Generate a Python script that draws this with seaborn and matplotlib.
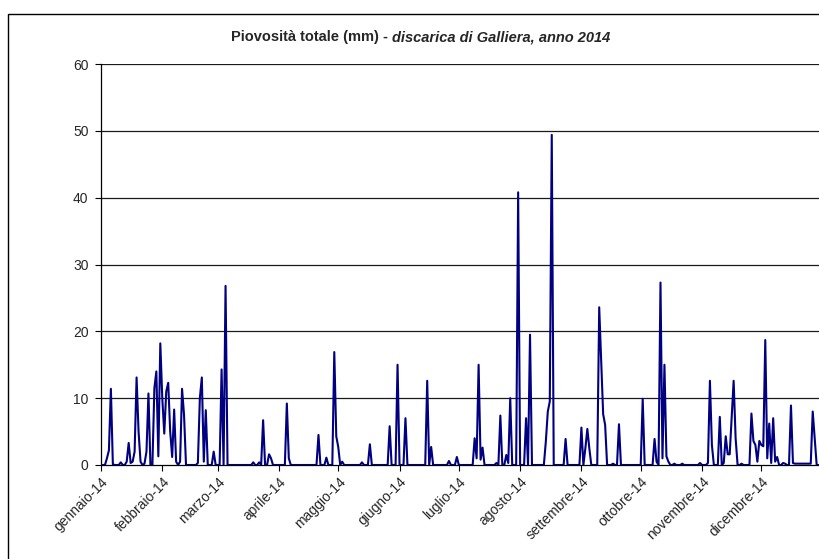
import matplotlib
matplotlib.use("Agg")
import matplotlib.pyplot as plt
from matplotlib.patches import Rectangle
import numpy as np
import pandas as pd
import seaborn as sns

# Daily rainfall (mm), one list per month of 2014
gennaio = [0, 0, 0, 1.0, 2.2, 11.4, 0.1, 0, 0, 0, 0.4, 0, 0, 0.5, 3.3, 0.3, 0.5, 2.0,
           13.1, 5.0, 0.5, 0, 0.2, 2.0, 10.7, 0, 0, 11.5, 14.0, 1.3, 18.2]
febbraio = [10.0, 4.7, 11.0, 12.3, 5.0, 1.2, 8.3, 0.5, 0, 0.5, 11.4, 7.5, 0, 0, 0, 0, 0, 0,
            0.3, 10.0, 13.1, 0.5, 8.2, 0, 0, 0, 2.0, 0]
marzo = [0, 0, 14.3, 0, 26.8] + [0] * 13 + [0.4, 0, 0, 0.4, 0, 6.7, 0, 0, 1.6, 1.0, 0, 0, 0]
aprile = [0, 0, 0, 0, 9.2, 1.0] + [0] * 14 + [4.5, 0, 0, 0, 1.1, 0, 0, 0, 16.9, 4.3]
maggio = [2.7, 0, 0.5] + [0] * 9 + [0.4, 0, 0, 0, 3.1] + [0] * 9 + [5.8, 0, 0, 0, 15.0]
giugno = [0, 0, 0, 7.0] + [0] * 10 + [12.6, 0, 2.7] + [0] * 8 + [0.6, 0, 0, 0, 1.2]
luglio = [0] * 8 + [4.0, 1.0, 15.0, 0.8, 2.6] + [0] * 6 + [0.3, 0, 7.4, 0, 0, 1.5, 0.3,
                                                         10.0, 0, 0, 0, 40.8]
agosto = [0, 0, 0, 7.0, 0, 19.5] + [0] * 7 + [3.5, 8.0, 9.5, 49.4] + [0] * 6 + [3.9] + [0] * 7
settembre = [5.6, 0, 2.5, 5.4, 2.5, 0, 0, 0, 0, 23.6, 15.5, 7.6, 6.0, 0, 0, 0, 0.2, 0, 0,
             6.1] + [0] * 10
ottobre = [0, 9.9, 0, 0, 0, 0, 0, 3.9, 0.5, 0, 27.3, 1.0, 15.0, 1.3, 0.5, 0, 0, 0.2, 0, 0,
           0, 0.2] + [0] * 8 + [0.3]
novembre = [0, 0, 0, 0.3, 12.6, 3.0, 0, 0, 0, 7.2, 0, 0.3, 4.3, 1.6, 1.6, 7.0, 12.6, 4.0,
            0, 0, 0.2, 0, 0, 0, 0, 7.7, 3.6, 3.0, 0.5, 3.6]
dicembre = [3.0, 2.8, 18.7, 1.0, 6.2, 0.3, 7.0, 0.5, 1.2, 0, 0, 0.3, 0.2, 0, 0, 8.9, 0.3,
            0.2, 0.2, 0.2, 0.2, 0.2, 0.2, 0.2, 0.2, 0.2, 8.0, 4.0, 0, 0, 0]

mesi = [gennaio, febbraio, marzo, aprile, maggio, giugno,
        luglio, agosto, settembre, ottobre, novembre, dicembre]
etichette_mesi = ["gennaio-14", "febbraio-14", "marzo-14", "aprile-14", "maggio-14",
                  "giugno-14", "luglio-14", "agosto-14", "settembre-14", "ottobre-14",
                  "novembre-14", "dicembre-14"]
y_ticks = [0, 10, 20, 30, 40, 50, 60]

pioggia = np.concatenate([np.asarray(m, dtype=float) for m in mesi])
giorni = np.arange(len(pioggia))
inizio_mesi = np.concatenate([[0], np.cumsum([len(m) for m in mesi])[:-1]])
df = pd.DataFrame({"giorno": giorni, "mm": pioggia})

sns.set_theme(style="white")
plt.rcParams["font.family"] = ["Liberation Sans", "DejaVu Sans"]

W, H = 819, 559
fig = plt.figure(figsize=(W / 100, H / 100), dpi=100)
fig.patch.set_facecolor("white")

# plot area in pixel terms
left_px, top_px, bottom_px = 101, 64, 465
px_per_day = 1.977
ax = fig.add_axes([left_px / W, 1 - bottom_px / H,
                   (W - left_px) / W, (bottom_px - top_px) / H])
ax.set_facecolor("white")

for v in y_ticks[1:]:
    ax.axhline(v, color="#1a1a1a", lw=0.9, zorder=1)

sns.lineplot(data=df, x="giorno", y="mm", color="#000080", lw=1.5, ax=ax, zorder=3)

ax.set_xlim(0, (W - left_px) / px_per_day)
ax.set_ylim(0, 60)
ax.set_yticks(y_ticks)
ax.set_yticklabels([str(v) for v in y_ticks], fontsize=10)
ax.set_xticks(inizio_mesi)
ax.set_xticklabels(etichette_mesi, rotation=45, ha="right", rotation_mode="anchor",
                   fontsize=10)
ax.tick_params(axis="both", direction="out", length=4, width=0.8, color="#000000",
               bottom=True, left=True)
ax.tick_params(axis="y", pad=5)
ax.tick_params(axis="x", pad=3)
ax.set_xlabel("")
ax.set_ylabel("")
for s in ["top", "right"]:
    ax.spines[s].set_visible(False)
for s in ["left", "bottom"]:
    ax.spines[s].set_color("#000000")
    ax.spines[s].set_linewidth(0.9)

# chart frame
fig.patches.append(Rectangle((8 / W, -0.05), 1.2, 1 - 14 / H + 0.05, transform=fig.transFigure,
                             fill=False, edgecolor="#000000", lw=1.0))

# title: bold part followed by bold italic part, centred as a whole
fig.canvas.draw()
renderer = fig.canvas.get_renderer()
ty = 1 - 37 / H
t1 = fig.text(0, ty, "Piovosità totale (mm) - ", fontsize=10.5, fontweight="bold",
              ha="left", va="center")
t2 = fig.text(0, ty, "discarica di Galliera, anno 2014", fontsize=10.5, fontweight="bold",
              fontstyle="italic", ha="left", va="center")
w1 = t1.get_window_extent(renderer).width / W
w2 = t2.get_window_extent(renderer).width / W
x0 = 421 / W - (w1 + w2) / 2
t1.set_x(x0)
t2.set_x(x0 + w1)

fig.savefig("out.png", dpi=100)
